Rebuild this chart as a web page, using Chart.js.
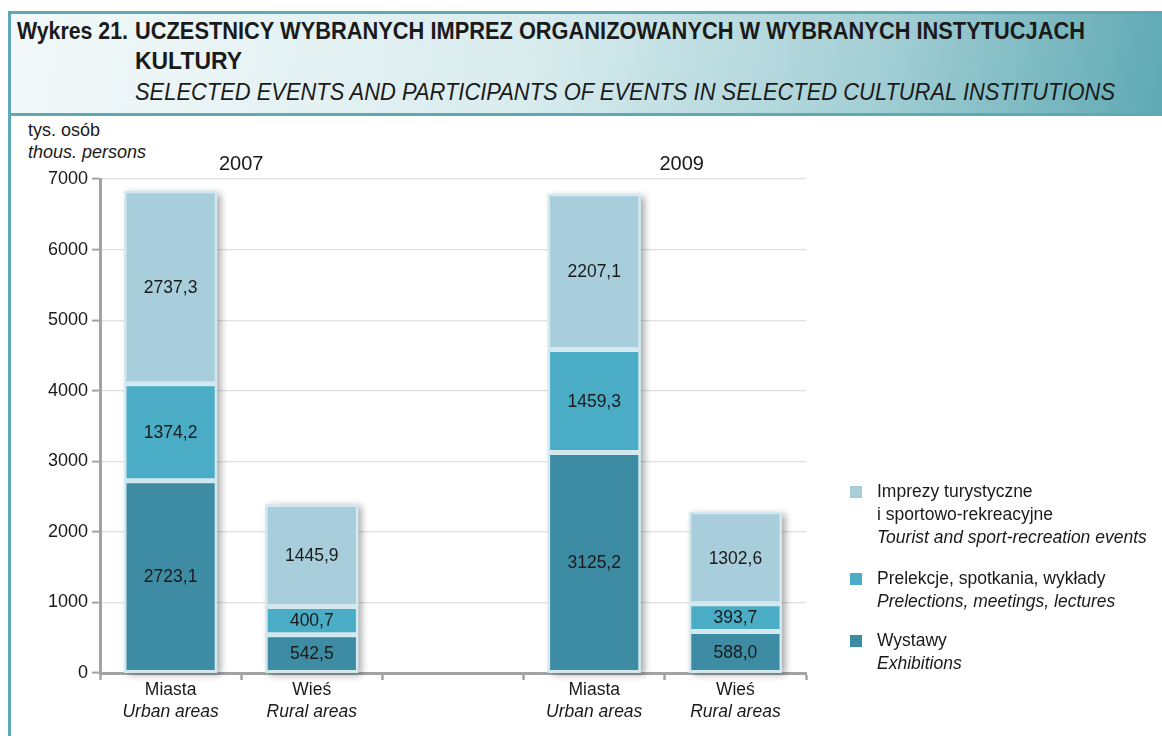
<!DOCTYPE html>
<html><head><meta charset="utf-8">
<script src="https://cdn.jsdelivr.net/npm/chart.js@4"></script>
<style>
html,body{margin:0;padding:0;background:#fff;}
body{width:1162px;height:736px;position:relative;overflow:hidden;font-family:'Liberation Sans',Arial,sans-serif;color:#1a1a1a;}
#frame{position:absolute;left:8px;top:11px;width:1160px;height:740px;border-left:3px solid #5eaab4;border-top:3px solid #5eaab4;box-sizing:border-box;}
#header{position:absolute;left:11px;top:14px;width:1151px;height:99px;background:linear-gradient(100deg,#f3f9fa 0%,#d9ecee 45%,#a3cfd5 75%,#5fa9b3 100%);border-bottom:3px solid #5eaab4;}
.t{position:absolute;white-space:nowrap;transform-origin:0 0;}
#chartwrap{position:absolute;left:0;top:0;width:1162px;height:736px;}
.leg{position:absolute;left:877px;font-size:17.5px;line-height:23px;white-space:nowrap;}
.sq{position:absolute;left:850px;width:12px;height:12px;}
</style></head>
<body>
<div id="frame"></div>
<div id="header"></div>
<div class="t" data-w="111" style="left:17px;top:18px;font-size:23px;font-weight:bold;">Wykres 21.</div>
<div class="t" data-w="950" style="left:135px;top:18px;font-size:23px;font-weight:bold;">UCZESTNICY WYBRANYCH IMPREZ ORGANIZOWANYCH W WYBRANYCH INSTYTUCJACH</div>
<div class="t" data-w="107" style="left:135px;top:48px;font-size:23px;font-weight:bold;">KULTURY</div>
<div class="t" data-w="980" style="left:135px;top:79px;font-size:23px;font-style:italic;">SELECTED EVENTS AND PARTICIPANTS OF EVENTS IN SELECTED CULTURAL INSTITUTIONS</div>
<div class="t" style="left:28px;top:120px;font-size:18px;">tys. osób</div>
<div class="t" style="left:28px;top:142px;font-size:18px;font-style:italic;">thous. persons</div>
<div id="chartwrap"><canvas id="c" width="1162" height="736"></canvas></div>
<div id="legend"></div>
<script>
const categories = ['Miasta', 'Wieś', '', 'Miasta', 'Wieś'];
const categoriesEn = ['Urban areas', 'Rural areas', '', 'Urban areas', 'Rural areas'];
const years = ['2007', '2009'];
const wystawy = [2723.1, 542.5, null, 3125.2, 588.0];
const prelekcje = [1374.2, 400.7, null, 1459.3, 393.7];
const imprezy = [2737.3, 1445.9, null, 2207.1, 1302.6];
const seriesPl = ['Wystawy', 'Prelekcje, spotkania, wykłady', 'Imprezy turystyczne\ni sportowo-rekreacyjne'];
const seriesEn = ['Exhibitions', 'Prelections, meetings, lectures', 'Tourist and sport-recreation events'];
const colors = ['#3d8ca3', '#4badc5', '#a9cedb'];
const yMax = 7000, yStep = 1000;

const FONT = "'Liberation Sans',Arial,sans-serif";

// condense header text to reference widths
document.querySelectorAll('.t[data-w]').forEach(el=>{
  const w = el.getBoundingClientRect().width;
  const target = +el.dataset.w;
  if (w > 0) el.style.transform = 'scaleX(' + (target / w) + ')';
});

// HTML legend (top to bottom: imprezy, prelekcje, wystawy)
(function(){
  const leg = document.getElementById('legend');
  const tops = [480, 567, 629];
  const order = [2,1,0];
  order.forEach((si,k)=>{
    const sq = document.createElement('div');
    sq.className='sq'; sq.style.top=(tops[k]+6)+'px'; sq.style.background=colors[si];
    leg.appendChild(sq);
    const d = document.createElement('div');
    d.className='leg'; d.style.top=tops[k]+'px';
    d.innerHTML = seriesPl[si].split('\n').join('<br>') + '<br><i>' + seriesEn[si] + '</i>';
    leg.appendChild(d);
  });
})();

const shadowPlugin = {
  id:'shadow',
  beforeDatasetsDraw(chart){
    const ctx = chart.ctx;
    const last = chart.getDatasetMeta(chart.data.datasets.length-1);
    const yScale = chart.scales.y;
    ctx.save();
    last.data.forEach((el,i)=>{
      if (imprezy[i]==null) return;
      const w = el.width;
      ctx.shadowColor='rgba(0,0,0,0.35)';
      ctx.shadowBlur=7; ctx.shadowOffsetX=4; ctx.shadowOffsetY=2;
      ctx.fillStyle='#cfe6ec';
      ctx.fillRect(el.x-w/2, el.y, w, yScale.getPixelForValue(0)-el.y);
    });
    ctx.restore();
  }
};

const labelPlugin = {
  id:'labels',
  afterDatasetsDraw(chart){
    const ctx = chart.ctx;
    ctx.save();
    ctx.font = '17.5px '+FONT;
    ctx.fillStyle='#1a1a1a';
    ctx.textAlign='center'; ctx.textBaseline='middle';
    chart.data.datasets.forEach((ds,di)=>{
      chart.getDatasetMeta(di).data.forEach((el,i)=>{
        const v = ds.data[i];
        if (v==null) return;
        ctx.fillText(v.toFixed(1).replace('.',','), el.x, (el.y+el.base)/2+1);
      });
    });
    // x category labels
    const xs = chart.scales.x;
    categories.forEach((c,i)=>{
      if(!c) return;
      const x = xs.getPixelForValue(i);
      ctx.font='17.5px '+FONT;
      ctx.fillText(c, x, 690);
      ctx.font='italic 17.5px '+FONT;
      ctx.fillText(categoriesEn[i], x, 712);
    });
    // years
    ctx.font='20px '+FONT;
    const yearPos = [0.5, 3.62];
    years.forEach((y,k)=>{
      const x = xs.getPixelForValue(0) + (xs.getPixelForValue(1)-xs.getPixelForValue(0))*yearPos[k];
      ctx.fillText(y, x, 164);
    });
    ctx.restore();
  }
};

const mk = (label, data, ci) => ({
  label, data, backgroundColor: colors[ci], borderColor:'#d3e9ef', borderWidth:2.5,
  borderSkipped:false, barPercentage:0.66, categoryPercentage:1.0, stack:'s'
});

new Chart(document.getElementById('c'), {
  type:'bar',
  data:{
    labels: categories,
    datasets:[ mk(seriesPl[0], wystawy, 0), mk(seriesPl[1], prelekcje, 1), mk(seriesPl[2], imprezy, 2) ]
  },
  options:{
    responsive:false, animation:false,
    layout:{padding:{left:0, right:356, top:179, bottom:0}},
    plugins:{legend:{display:false}, tooltip:{enabled:false}},
    scales:{
      x:{
        stacked:true,
        afterFit(s){ s.height = 63; },
        ticks:{display:false},
        grid:{display:true, drawOnChartArea:false, offset:true, tickLength:7, tickWidth:2.5, tickColor:'#a3a3a3'},
        border:{display:true, color:'#a3a3a3', width:3}
      },
      y:{
        stacked:true, min:0, max:yMax,
        afterFit(s){ s.width = 100; },
        ticks:{stepSize:yStep, color:'#1a1a1a', font:{family:FONT, size:18}, padding:4,
               callback:(v)=>String(v)},
        grid:{color:'#e0e0e0', lineWidth:1.2, tickLength:8, tickWidth:2, tickColor:'#a3a3a3'},
        border:{display:true, color:'#a3a3a3', width:3}
      }
    }
  },
  plugins:[shadowPlugin, labelPlugin]
});
</script>
</body></html>
